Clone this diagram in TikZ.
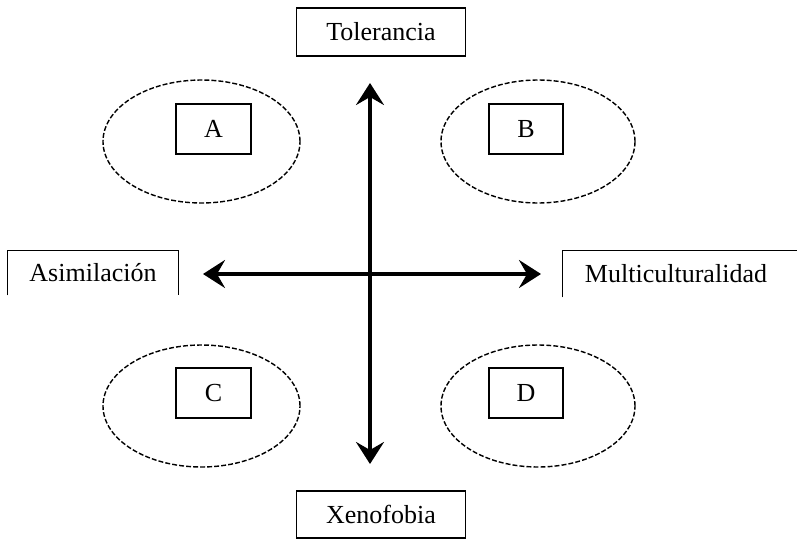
\documentclass[tikz,border=0pt]{standalone}
\usepackage{fontspec}
\setmainfont{Liberation Serif}
\usetikzlibrary{shapes.geometric, arrows.meta}

\begin{document}
\begin{tikzpicture}[x=0.025cm, y=-0.025cm,
    texto/.style={inner sep=0pt, font=\fontsize{18.5}{22}\selectfont},
    caja/.style={texto, draw, line width=1pt},
    zona/.style={draw, ellipse, inner sep=0pt, line width=1pt, dash pattern=on 3.5pt off 1.5pt},
    eje/.style={line width=3.2pt, {Stealth[length=5.5mm,width=7mm,inset=2mm]}-{Stealth[length=5.5mm,width=7mm,inset=2mm]}}]
  % cuadrantes
    \def\px{0.025cm}
    \useasboundingbox (0,0) rectangle (797,540);

    \node[caja, minimum width=169*\px, minimum height=48*\px] (tol) at (381,32) {Tolerancia};
    \node[caja, minimum width=169*\px, minimum height=47*\px] (xen) at (381,514.5) {Xenofobia};
    \node[texto, minimum width=170*\px, minimum height=44*\px] (asim) at (93,273) {Asimilación};
    \node[texto, minimum width=226*\px, minimum height=46*\px] (multi) at (676,274) {Multiculturalidad};

    % cajas abiertas
    \draw[line width=1pt] (asim.south west) -- (asim.north west) -- (asim.north east) -- (asim.south east);
    \draw[line width=1pt] (multi.south west) -- (multi.north west) -- ([xshift=12pt]multi.north east);

    \node[zona, minimum width=197*\px, minimum height=123*\px] (zonaA) at (201.5,141.5) {};
    \node[zona, minimum width=194*\px, minimum height=123*\px] (zonaB) at (538,141.5) {};
    \node[zona, minimum width=197*\px, minimum height=122*\px] (zonaC) at (201.5,406) {};
    \node[zona, minimum width=194*\px, minimum height=122*\px] (zonaD) at (538,406) {};

    \node[caja, minimum width=75*\px, minimum height=50*\px] (A) at (213.5,129) {A};
    \node[caja, minimum width=74*\px, minimum height=50*\px] (B) at (526,129) {B};
    \node[caja, minimum width=75*\px, minimum height=50*\px] (C) at (213.5,393) {C};
    \node[caja, minimum width=74*\px, minimum height=50*\px] (D) at (526,393) {D};

    % ejes
    \coordinate (arriba) at (370,83);
    \coordinate (abajo) at (370,464);
    \coordinate (izq) at (203,274);
    \coordinate (der) at (541,274);
    \draw[eje] (abajo) -- (arriba);
    \draw[eje] (izq) -- (der);
  \end{tikzpicture}
\end{document}
